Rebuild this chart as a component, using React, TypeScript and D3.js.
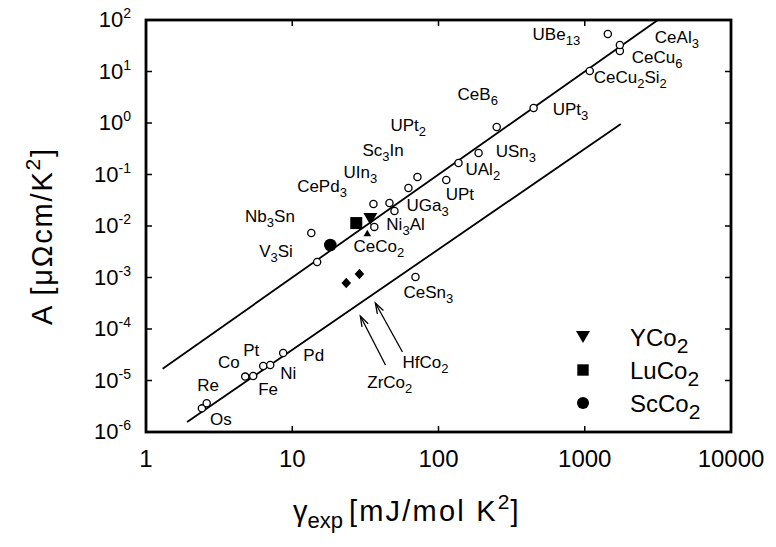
import React from "react";
import * as d3 from "d3";

// ---- axis ticks ----
const gammaTicks = [1, 10, 100, 1000, 10000];
const aTickExps = [-6, -5, -4, -3, -2, -1, 0, 1, 2];

// ---- open-circle compounds ----
const openNames = ["Os", "Re", "Co", "Fe", "Pt", "Ni", "Pd", "Nb3Sn", "V3Si", "Ni3Al", "CePd3", "UIn3", "UGa3", "Sc3In", "UPt2", "CeSn3", "UPt", "UAl2", "USn3", "CeB6", "UPt3", "CeCu2Si2", "CeCu6", "CeAl3", "UBe13"];
const openGamma = [2.41, 2.6, 4.77, 5.41, 6.33, 7.07, 8.67, 13.5, 14.8, 36.4, 35.9, 46.2, 50.0, 62.3, 71.8, 69.6, 113, 137, 188, 250, 447, 1082, 1738, 1738, 1438];
const openA = [2.88e-6, 3.61e-6, 1.19e-5, 1.22e-5, 1.91e-5, 2.0e-5, 3.42e-5, 7.3e-3, 2.0e-3, 9.6e-3, 2.67e-2, 2.8e-2, 1.95e-2, 5.47e-2, 8.94e-2, 1.02e-3, 7.8e-2, 0.167, 0.261, 0.836, 1.96, 10.2, 25.0, 32.7, 53.5];

// ---- filled-symbol compounds ----
const filledNames = ["ScCo2", "LuCo2", "YCo2", "CeCo2", "ZrCo2", "HfCo2"];
const filledShapes = ["circle", "square", "triDown", "triUpSmall", "diamond", "diamond"];
const filledGamma = [18.2, 27.4, 34.2, 32.6, 23.4, 28.8];
const filledA = [4.28e-3, 1.14e-2, 1.37e-2, 7.3e-3, 7.8e-4, 1.17e-3];

// ---- guide lines (A/gamma^2 constant) ----
const upperLineGamma = [1.3, 3162];
const upperLineA = [1.69e-5, 100];
const lowerLineGamma = [1.91, 1765];
const lowerLineA = [1.56e-6, 0.955];

// ---- label anchors (data coordinates of text start / baseline) ----
const labelTexts = ["UBe13", "CeAl3", "CeCu6", "CeCu2Si2", "CeB6", "UPt3", "UPt2", "Sc3In", "USn3", "UAl2", "UIn3", "CePd3", "UPt", "UGa3", "Nb3Sn", "Ni3Al", "CeCo2", "V3Si", "CeSn3", "Pt", "HfCo2", "Pd", "Co", "Ni", "ZrCo2", "Re", "Fe", "Os"];
const labelGamma = [440, 3015, 2099, 1153, 135, 604, 46.9, 30.2, 246, 153, 22.4, 10.8, 112, 60.4, 4.76, 44.0, 26.2, 5.94, 57.6, 4.62, 56.7, 11.9, 3.11, 8.27, 32.6, 2.24, 5.85, 2.74];
const labelA = [40.9, 35.7, 14.6, 5.98, 2.8, 1.43, 0.7, 0.229, 0.219, 0.0977, 0.0855, 0.0457, 0.032, 0.0197, 0.012, 8.5e-3, 3.13e-3, 2.5e-3, 4.0e-4, 2.99e-5, 1.75e-5, 2.39e-5, 1.75e-5, 1.07e-5, 7.15e-6, 6.25e-6, 5.22e-6, 1.37e-6];

// ---- arrows (tail -> head) ----
const arrowNames = ["ZrCo2", "HfCo2"];
const arrowTailGamma = [43.4, 56.7];
const arrowTailA = [2.0e-5, 3.57e-5];
const arrowHeadGamma = [29.2, 37.0];
const arrowHeadA = [1.79e-4, 3.2e-4];

// ---- legend ----
const legendNames = ["YCo2", "LuCo2", "ScCo2"];
const legendShapes = ["triDown", "square", "circle"];

const W = 776;
const H = 547;
const left = 146, right = 731, top = 20, bottom = 432;
const FONT = "'Liberation Sans', Arial, Helvetica, sans-serif";

const x = d3.scaleLog().domain([1, 10000]).range([left, right]);
const y = d3.scaleLog().domain([1e-6, 1e2]).range([bottom, top]);

function chem(s: string, size: number, sub: number, off: number) {
  const parts = s.match(/[A-Za-z]+|\d+/g) || [];
  const out: any[] = [];
  let shifted = false;
  parts.forEach((p, i) => {
    const isNum = /^\d+$/.test(p);
    if (isNum && !shifted) {
      out.push(<tspan key={i} fontSize={sub} dy={off}>{p}</tspan>);
      shifted = true;
    } else if (!isNum && shifted) {
      out.push(<tspan key={i} fontSize={size} dy={-off}>{p}</tspan>);
      shifted = false;
    } else {
      out.push(<tspan key={i} fontSize={isNum ? sub : size}>{p}</tspan>);
    }
  });
  return out;
}

function shapePath(shape: string, cx: number, cy: number, scale = 1) {
  if (shape === "square") {
    const h = 6 * scale;
    return `M${cx - h},${cy - h}H${cx + h}V${cy + h}H${cx - h}Z`;
  }
  if (shape === "triDown") {
    const w = 7 * scale, h = 12 * scale;
    return `M${cx - w},${cy - h / 2}L${cx + w},${cy - h / 2}L${cx},${cy + h / 2}Z`;
  }
  if (shape === "triUpSmall") {
    const w = 3.8, h = 6.5;
    return `M${cx - w},${cy + h / 2}L${cx + w},${cy + h / 2}L${cx},${cy - h / 2}Z`;
  }
  if (shape === "diamond") {
    const w = 4.8, h = 5.2;
    return `M${cx},${cy - h}L${cx + w},${cy}L${cx},${cy + h}L${cx - w},${cy}Z`;
  }
  return null;
}

export default function App() {
  const line = d3.line<[number, number]>().x((d) => x(d[0])).y((d) => y(d[1]));
  const upper: [number, number][] = upperLineGamma.map((g, i) => [g, upperLineA[i]]);
  const lower: [number, number][] = lowerLineGamma.map((g, i) => [g, lowerLineA[i]]);

  return (
    <svg width={W} height={H} style={{ position: "absolute", left: 0, top: 0, background: "#fff" }} fontFamily={FONT}>
      <rect x={0} y={0} width={W} height={H} fill="#fff" />
      {/* guide lines */}
      <path d={line(upper) || ""} fill="none" stroke="#000" strokeWidth={1.8} />
      <path d={line(lower) || ""} fill="none" stroke="#000" strokeWidth={1.8} />

      {/* frame */}
      <rect x={left} y={top} width={right - left} height={bottom - top} fill="none" stroke="#000" strokeWidth={2.8} />

      {/* y ticks */}
      {aTickExps.map((e) => {
        const yy = y(Math.pow(10, e));
        return (
          <g key={"yt" + e}>
            <line x1={left} x2={left + 6} y1={yy} y2={yy} stroke="#000" strokeWidth={1.5} />
            <line x1={right} x2={right - 6} y1={yy} y2={yy} stroke="#000" strokeWidth={1.5} />
            <text x={131} y={yy + 7} textAnchor="end" fontSize={22} fill="#000">
              10<tspan fontSize={14} dy={-9}>{e}</tspan>
            </text>
          </g>
        );
      })}
      {/* x ticks */}
      {gammaTicks.map((g) => {
        const xx = x(g);
        return (
          <g key={"xt" + g}>
            {g > 1 && g < 10000 && (
              <>
                <line x1={xx} x2={xx} y1={bottom} y2={bottom - 6} stroke="#000" strokeWidth={1.5} />
                <line x1={xx} x2={xx} y1={top} y2={top + 6} stroke="#000" strokeWidth={1.5} />
              </>
            )}
            <text x={xx} y={467} textAnchor="middle" fontSize={24} fill="#000">{g}</text>
          </g>
        );
      })}

      {/* axis titles */}
      <text x={293} y={521} fontSize={29} fill="#000">
        <tspan>γ</tspan>
        <tspan fontSize={22} dy={7}>exp</tspan>
        <tspan dy={-7} dx={6} letterSpacing={2.2}>[mJ/mol K</tspan>
        <tspan fontSize={21} dy={-12}>2</tspan>
        <tspan dy={12} dx={1}>]</tspan>
      </text>
      <text transform="translate(52,236) rotate(-90)" textAnchor="middle" fontSize={29} letterSpacing={1.8} fill="#000">
        A [μΩcm/K<tspan fontSize={21} dy={-12}>2</tspan><tspan dy={12}>]</tspan>
      </text>

      {/* arrows */}
      {arrowNames.map((n, i) => {
        const tx = x(arrowTailGamma[i]), ty = y(arrowTailA[i]);
        const hx = x(arrowHeadGamma[i]), hy = y(arrowHeadA[i]);
        const ang = Math.atan2(ty - hy, tx - hx);
        const L = 11, a = 0.32;
        const p1 = [hx + L * Math.cos(ang + a), hy + L * Math.sin(ang + a)];
        const p2 = [hx + L * Math.cos(ang - a), hy + L * Math.sin(ang - a)];
        return (
          <g key={"ar" + n} stroke="#000" strokeWidth={1.3} fill="none">
            <line x1={tx} y1={ty} x2={hx} y2={hy} />
            <path d={`M${p1[0]},${p1[1]}L${hx},${hy}L${p2[0]},${p2[1]}`} />
          </g>
        );
      })}

      {/* open circles */}
      {openNames.map((n, i) => (
        <circle key={"o" + n} cx={x(openGamma[i])} cy={y(openA[i])} r={3.6} fill="#fff" stroke="#000" strokeWidth={1.3} />
      ))}

      {/* filled symbols */}
      {filledNames.map((n, i) => {
        const cx = x(filledGamma[i]), cy = y(filledA[i]);
        if (filledShapes[i] === "circle") return <circle key={"f" + n} cx={cx} cy={cy} r={6.3} fill="#000" />;
        return <path key={"f" + n} d={shapePath(filledShapes[i], cx, cy) || ""} fill="#000" />;
      })}

      {/* labels */}
      {labelTexts.map((t, i) => (
        <text key={"l" + i} x={x(labelGamma[i])} y={y(labelA[i])} fontSize={17} fill="#000">
          {chem(t, 17, 13, 5)}
        </text>
      ))}

      {/* legend */}
      {legendNames.map((n, i) => {
        const cy = 337 + i * 33;
        const cx = 583;
        return (
          <g key={"lg" + n}>
            {legendShapes[i] === "circle" ? (
              <circle cx={cx} cy={cy} r={6} fill="#000" />
            ) : (
              <path d={shapePath(legendShapes[i], cx, cy, legendShapes[i] === "square" ? 0.95 : 1) || ""} fill="#000" />
            )}
            <text x={630} y={cy + 8.5} fontSize={24} fill="#000">
              {chem(n, 24, 21, 7)}
            </text>
          </g>
        );
      })}
    </svg>
  );
}
